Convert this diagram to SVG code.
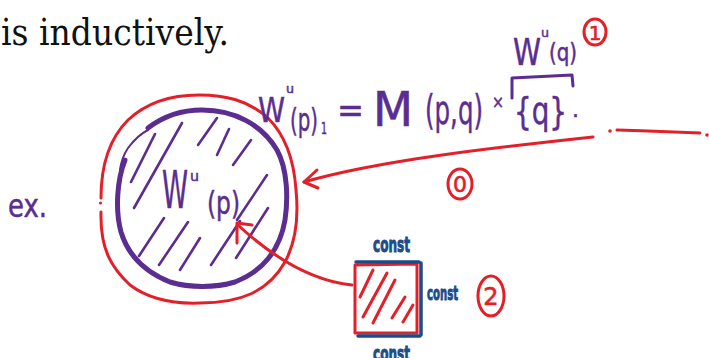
<svg xmlns="http://www.w3.org/2000/svg" width="709" height="358" viewBox="0 0 709 358">
<defs>
<style>
.p{fill:#5b2d90;stroke:#5b2d90;stroke-width:0.5;font-family:"DejaVu Sans",sans-serif}
.r{fill:#e3202a;stroke:#e3202a;stroke-width:0.6;font-family:"DejaVu Sans",sans-serif}
.b{fill:#1d4c88;stroke:#1d4c88;stroke-width:1;font-family:"DejaVu Sans",sans-serif;font-weight:bold}
.ps{fill:none;stroke:#5b2d90;stroke-linecap:round;stroke-linejoin:round}
.rs{fill:none;stroke:#e3202a;stroke-width:3;stroke-linecap:round;stroke-linejoin:round}
.bs{fill:none;stroke:#1d4c88;stroke-width:3.5;stroke-linecap:round}
</style>
</defs>
<rect width="709" height="358" fill="#ffffff"/>
<g id="heading">
<text x="1" y="45" font-family="DejaVu Serif, serif" font-size="37" textLength="228" lengthAdjust="spacingAndGlyphs" fill="#111">is inductively.</text>
</g>
<g id="ex-label">
<text class="p" x="8" y="217" font-size="32" textLength="39" lengthAdjust="spacingAndGlyphs">ex.</text>
</g>
<g id="region-Wu-p">
<path class="rs" d="M101,212 C100,250 112,268 130,285 C150,300 175,304 200,303 C240,303 268,292 285,262 C298,238 298,210 296,190 C294,160 285,135 268,118 C248,100 225,95 199,95 C170,95 145,104 128,120 C110,138 101,165 101,198"/>
<circle cx="100.5" cy="203" r="1.6" fill="#e3202a"/>
<path class="ps" stroke-width="5" d="M148,128 C165,115 185,110 202,110 C235,110 262,125 277,150 C288,170 288,200 285,220 C280,250 262,272 235,282 C215,288 190,288 170,282 C145,272 128,255 121,232 C115,210 117,180 125,160"/>
<path class="ps" stroke-width="2" d="M148,130 C140,134 134,140 128,148 C124,154 121,162 120,170"/>
<g class="ps" stroke-width="2.6">
<path d="M131,182 L155,134"/>
<path d="M134,208 L182,123"/>
<path d="M139,256 L164,218"/>
<path d="M159,265 L188,222"/>
<path d="M198,145 L217,118"/>
<path d="M217,155 L229,129"/>
<path d="M233,165 L251,140"/>
<path d="M211,265 L240,221"/>
<path d="M237,220 L267,175"/>
<path d="M236,258 L268,208"/>
<path d="M180,270 L200,238"/>
</g>
<text class="p" x="162" y="208" font-size="52" textLength="26" lengthAdjust="spacingAndGlyphs">W</text>
<text class="p" x="190" y="181" font-size="14" textLength="9" lengthAdjust="spacingAndGlyphs">u</text>
<text class="p" x="207" y="214" font-size="32" textLength="33" lengthAdjust="spacingAndGlyphs">(p)</text>
</g>
<g id="formula">
<text class="p" x="258" y="122" font-size="34" textLength="27" lengthAdjust="spacingAndGlyphs">W</text>
<text class="p" x="286" y="93" font-size="12" textLength="8" lengthAdjust="spacingAndGlyphs">u</text>
<text class="p" x="290" y="131" font-size="32" textLength="28" lengthAdjust="spacingAndGlyphs">(p)</text>
<text class="p" x="321" y="134" font-size="15" textLength="6" lengthAdjust="spacingAndGlyphs">1</text>
<text class="p" x="337" y="122" font-size="36" textLength="27" lengthAdjust="spacingAndGlyphs">=</text>
<text class="p" transform="translate(373,126) scale(1,1.25)" x="0" y="0" font-size="38" textLength="40" lengthAdjust="spacingAndGlyphs" stroke-width="0">M</text>
<text class="p" x="425" y="124" font-size="40" textLength="58" lengthAdjust="spacingAndGlyphs">(p,q)</text>
<text class="p" x="492" y="108" font-size="18" textLength="12" lengthAdjust="spacingAndGlyphs">×</text>
<text class="p" x="514" y="124" font-size="38" textLength="53" lengthAdjust="spacingAndGlyphs">{q}</text>
<text class="p" x="572" y="117" font-size="22">.</text>
<path class="ps" stroke-width="3" d="M512,98 L512,78 L572,75 L573,86"/>
<text class="p" x="513" y="65" font-size="38" textLength="28" lengthAdjust="spacingAndGlyphs">W</text>
<text class="p" x="541" y="37" font-size="13" textLength="8" lengthAdjust="spacingAndGlyphs">u</text>
<text class="p" x="549" y="61" font-size="24" textLength="28" lengthAdjust="spacingAndGlyphs">(q)</text>
</g>
<g id="marker-1">
<ellipse class="rs" cx="595" cy="32" rx="11" ry="13"/>
<text class="r" x="595" y="40" font-size="20" text-anchor="middle">1</text>
</g>
<g id="marker-0">
<ellipse class="rs" cx="460" cy="184" rx="12" ry="15"/>
<text class="r" x="460" y="192" font-size="22" text-anchor="middle">0</text>
</g>
<g id="marker-2">
<ellipse class="rs" cx="491" cy="296" rx="13" ry="20"/>
<text class="r" x="491" y="305" font-size="24" text-anchor="middle">2</text>
</g>
<g id="box">
<path class="rs" d="M355,265 L417,264 L417,333 L355,333 Z"/>
<path class="bs" d="M356,262 L419,262 M421,263 L421,335 M358,336 L420,336"/>
<g class="rs" stroke-width="2.2">
<path d="M360,297 L373,270"/>
<path d="M363,317 L387,273"/>
<path d="M373,323 L395,280"/>
<path d="M392,318 L405,297"/>
<path d="M403,322 L413,305"/>
</g>
<text class="b" x="373" y="252" font-size="22" textLength="37" lengthAdjust="spacingAndGlyphs">const</text>
<text class="b" x="427" y="300" font-size="20" textLength="31" lengthAdjust="spacingAndGlyphs">const</text>
<text class="b" x="373" y="361" font-size="22" textLength="37" lengthAdjust="spacingAndGlyphs">const</text>
</g>
<g id="connectors">
<path class="rs" d="M593,137 C500,147 380,160 304,182"/>
<path class="rs" d="M317,170 L304,182 L318,188"/>
<path class="rs" d="M352,285 C322,282 285,268 239,226"/>
<path class="rs" d="M252,225 L237,223 L237,243"/>
<circle cx="610" cy="131" r="1.8" fill="#e3202a"/>
<path class="rs" d="M617,130 C645,131 675,132 700,133"/>
<circle cx="707" cy="135" r="1.8" fill="#e3202a"/>
</g>
</svg>
